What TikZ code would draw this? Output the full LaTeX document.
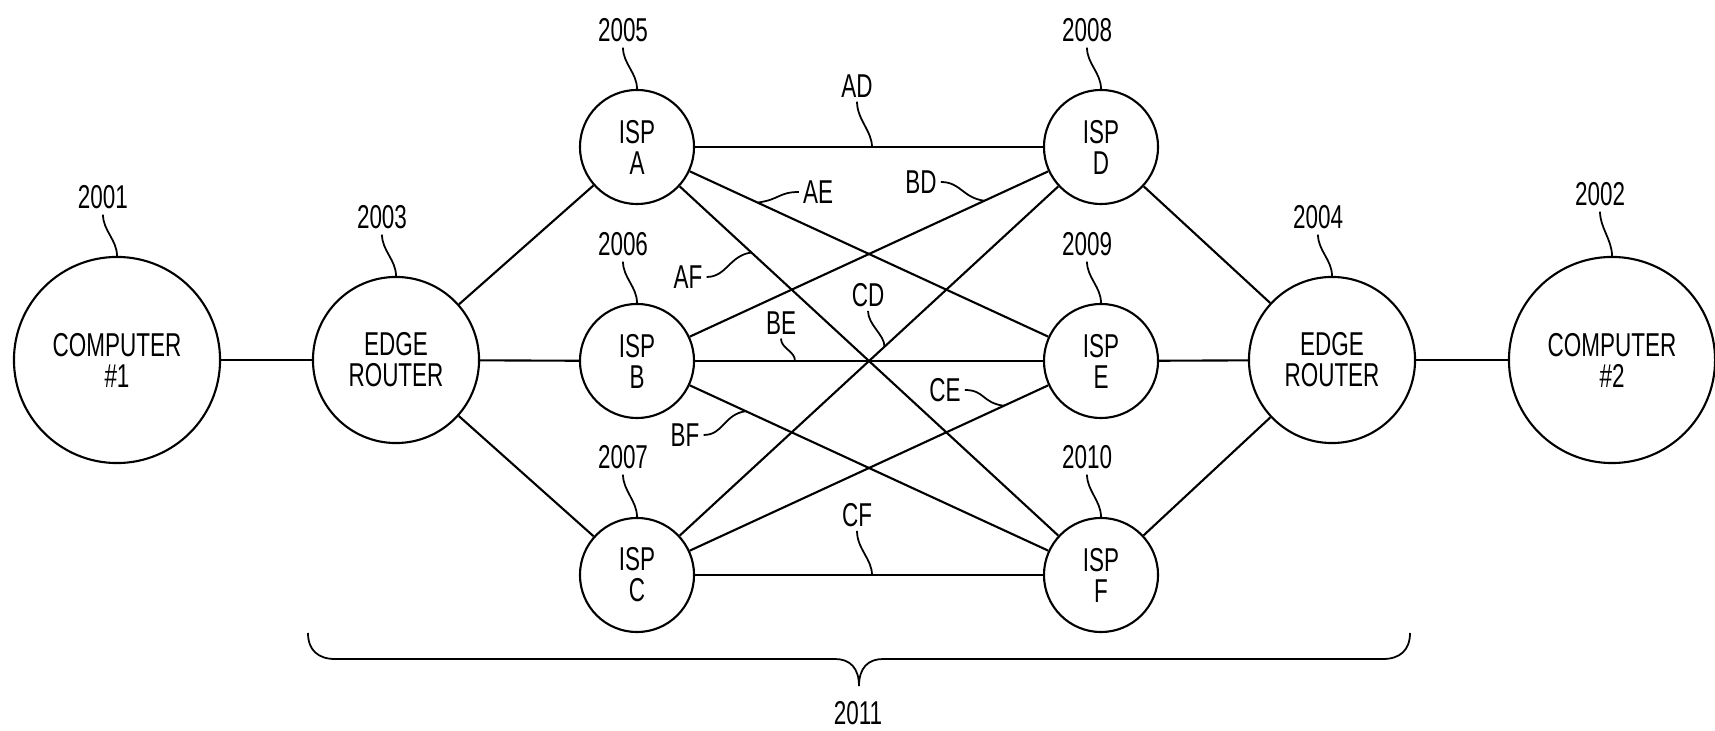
\documentclass[tikz,border=0pt]{standalone}
\usepackage{fontspec}
\setmainfont{Liberation Sans}[FakeStretch=0.68]
\usetikzlibrary{calc}

\tikzset{
	comp/.style={circle,draw,line width=0.6pt,inner sep=0pt,minimum size=2.06cm,align=center},
	router/.style={comp,minimum size=1.66cm},
	isp/.style={comp,minimum size=1.14cm},
	refnum/.style={inner sep=1.5pt},
	linkname/.style={inner sep=1pt},
	link/.style={line width=0.6pt},
	lead/.style={line width=0.5pt},
}

\begin{document}
\begin{tikzpicture}[x=0.01cm,y=-0.01cm,font=\fontsize{9.4}{8.8}\selectfont]
		\useasboundingbox (0,0) rectangle (1715,731);
		% machines and routers
		\node[comp] (comp1) at (117,360) {COMPUTER\\\#1};
		\node[router] (rtr1) at (396,360) {EDGE\\ROUTER};
		\node[isp] (A) at (637,147) {ISP\\A};
		\node[isp] (B) at (637,361) {ISP\\B};
		\node[isp] (C) at (637,575) {ISP\\C};
		\node[isp] (D) at (1101,147) {ISP\\D};
		\node[isp] (E) at (1101,361) {ISP\\E};
		\node[isp] (F) at (1101,575) {ISP\\F};
		\node[router] (rtr2) at (1332,360) {EDGE\\ROUTER};
		\node[comp] (comp2) at (1612,360) {COMPUTER\\\#2};

		% links
		\draw[link] (comp1) -- (rtr1);
		\draw[link] (rtr1) -- (A);
		\draw[link] (rtr1) -- (B);
		\draw[link] (rtr1) -- (C);
		\draw[link] (A) -- (D);
		\draw[link] (A) -- (E);
		\draw[link] (A) -- (F);
		\draw[link] (B) -- (D);
		\draw[link] (B) -- (E);
		\draw[link] (B) -- (F);
		\draw[link] (C) -- (D);
		\draw[link] (C) -- (E);
		\draw[link] (C) -- (F);
		\draw[link] (D) -- (rtr2);
		\draw[link] (E) -- (rtr2);
		\draw[link] (F) -- (rtr2);
		\draw[link] (rtr2) -- (comp2);

		% reference numbers
		\node[refnum] (n2001) at (103,197) {2001};
		\node[refnum] (n2003) at (382,217) {2003};
		\node[refnum] (n2005) at (623,30) {2005};
		\node[refnum] (n2006) at (623,244) {2006};
		\node[refnum] (n2007) at (623,457) {2007};
		\node[refnum] (n2008) at (1087,30) {2008};
		\node[refnum] (n2009) at (1087,244) {2009};
		\node[refnum] (n2010) at (1087,457) {2010};
		\node[refnum] (n2004) at (1318,217) {2004};
		\node[refnum] (n2002) at (1600,194) {2002};
		\draw[lead] (n2001.south) .. controls +(0,16) and +(0,-16) .. (comp1.north);
		\draw[lead] (n2003.south) .. controls +(0,16) and +(0,-16) .. (rtr1.north);
		\draw[lead] (n2005.south) .. controls +(0,16) and +(0,-16) .. (A.north);
		\draw[lead] (n2006.south) .. controls +(0,16) and +(0,-16) .. (B.north);
		\draw[lead] (n2007.south) .. controls +(0,16) and +(0,-16) .. (C.north);
		\draw[lead] (n2008.south) .. controls +(0,16) and +(0,-16) .. (D.north);
		\draw[lead] (n2009.south) .. controls +(0,16) and +(0,-16) .. (E.north);
		\draw[lead] (n2010.south) .. controls +(0,16) and +(0,-16) .. (F.north);
		\draw[lead] (n2004.south) .. controls +(0,16) and +(0,-16) .. (rtr2.north);
		\draw[lead] (n2002.south) .. controls +(0,16) and +(0,-16) .. (comp2.north);

		% link names
		\coordinate (ad) at ($(A)!(872,147)!(D)$);
		\coordinate (ae) at ($(A)!(757,204)!(E)$);
		\coordinate (af) at ($(A)!(750,254)!(F)$);
		\coordinate (bd) at ($(B)!(985,202)!(D)$);
		\coordinate (be) at ($(B)!(795,361)!(E)$);
		\coordinate (bf) at ($(B)!(745,413)!(F)$);
		\coordinate (cd) at ($(C)!(883,345)!(D)$);
		\coordinate (ce) at ($(C)!(1004,406)!(E)$);
		\coordinate (cf) at ($(C)!(872,575)!(F)$);
		\node[linkname] (lad) at (857,86) {AD};
		\node[linkname] (lae) at (818,192) {AE};
		\node[linkname] (laf) at (688,277) {AF};
		\node[linkname] (lbd) at (921,182) {BD};
		\node[linkname] (lbe) at (781,323) {BE};
		\node[linkname] (lbf) at (685,435) {BF};
		\node[linkname] (lcd) at (868,295) {CD};
		\node[linkname] (lce) at (945,390) {CE};
		\node[linkname] (lcf) at (857,515) {CF};
		\draw[lead] (lad.south) .. controls +(0,18) and +(0,-16) .. (ad);
		\draw[lead] (lae.west) .. controls +(-20,0) and +(22,-3) .. (ae);
		\draw[lead] (laf.east) .. controls +(20,0) and +(-22,3) .. (af);
		\draw[lead] (lbd.east) .. controls +(20,0) and +(-22,-3) .. (bd);
		\draw[lead] (lbe.south) .. controls +(0,10) and +(0,-10) .. (be);
		\draw[lead] (lbf.east) .. controls +(20,0) and +(-22,3) .. (bf);
		\draw[lead] (lcd.south) .. controls +(0,14) and +(0,-12) .. (cd);
		\draw[lead] (lce.east) .. controls +(20,0) and +(-22,-3) .. (ce);
		\draw[lead] (lcf.south) .. controls +(0,18) and +(0,-16) .. (cf);

		% brace under the network
		\coordinate (brl) at (308,633);
		\coordinate (brr) at (1410,633);
		\coordinate (brtip) at (859,686);
		\node (n2011) at (858,713) {2011};
		\draw[lead] (brl) .. controls (308,650) and (318,659) .. (335,659) -- (835,659)
			.. controls (850,659) and (859,668) .. (brtip)
			.. controls (859,668) and (868,659) .. (883,659) -- (1383,659)
			.. controls (1400,659) and (1410,650) .. (brr);
	\end{tikzpicture}
\end{document}
